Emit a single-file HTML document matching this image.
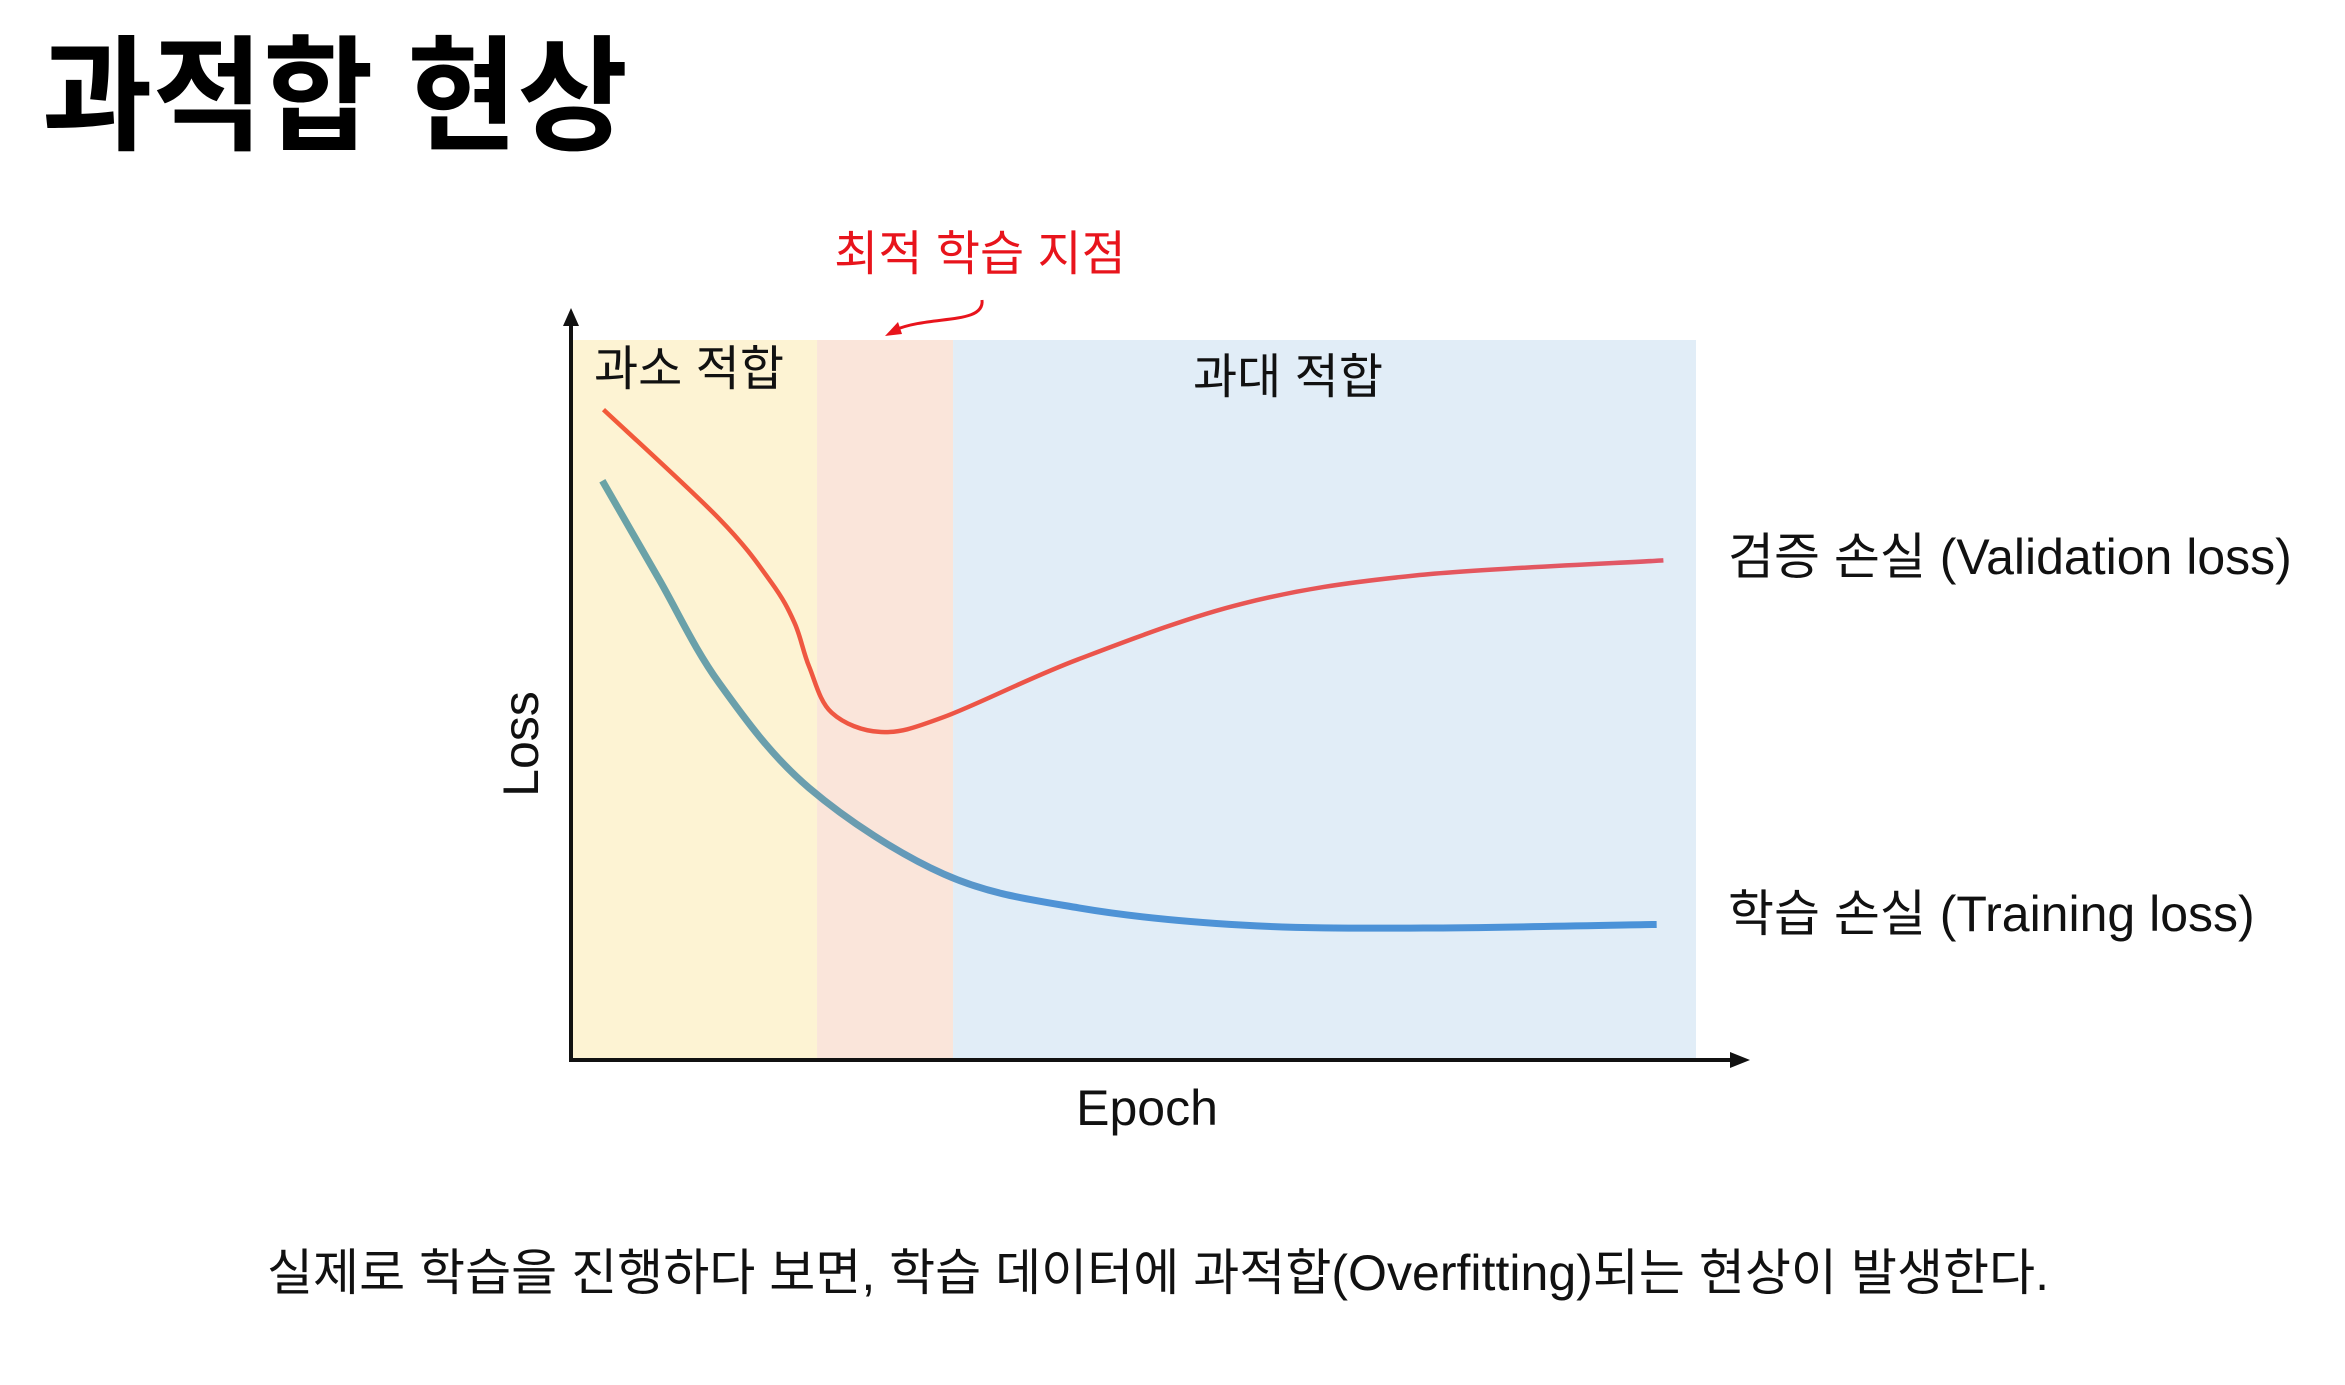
<!DOCTYPE html>
<html><head><meta charset="utf-8"><style>
html,body{margin:0;padding:0;background:#fff;width:2345px;height:1385px;overflow:hidden}
svg{display:block}
text{font-family:"Liberation Sans","Noto Sans CJK KR",sans-serif}
</style></head><body>
<svg id="chart" width="2345" height="1385" viewBox="0 0 2345 1385">
<defs>
<linearGradient id="gTrain" x1="0" x2="1" y1="0" y2="0"><stop offset="0" stop-color="#6aa3a6"/><stop offset="0.25" stop-color="#6a9cb0"/><stop offset="0.4" stop-color="#4f93d6"/><stop offset="1" stop-color="#4a92d8"/></linearGradient>
<linearGradient id="gVal" x1="0" x2="1" y1="0" y2="0"><stop offset="0" stop-color="#f25a3a"/><stop offset="0.4" stop-color="#ec5448"/><stop offset="1" stop-color="#e05868"/></linearGradient>
</defs>
<text x="42" y="140" font-size="125" font-weight="bold" textLength="586" lengthAdjust="spacingAndGlyphs" fill="#000">과적합 현상</text>
<g id="plot"></g>
<text x="980" y="270" font-size="48" fill="#e8141c" text-anchor="middle">최적 학습 지점</text>
<path d="M982 300 C 985 325, 930 315, 895 330" fill="none" stroke="#e8141c" stroke-width="3"/>
<polygon points="885,336 898,322 902,334" fill="#e8141c"/>
<text x="594" y="385" font-size="48" fill="#111">과소 적합</text>
<text x="1288" y="393" font-size="48" fill="#111" text-anchor="middle">과대 적합</text>
<text x="1728" y="574" font-size="50" fill="#111">검증 손실 (Validation loss)</text>
<text x="1728" y="931" font-size="50" fill="#111">학습 손실 (Training loss)</text>
<text transform="translate(538,744) rotate(-90)" font-size="50" fill="#111" text-anchor="middle">Loss</text>
<text x="1147" y="1125" font-size="50" fill="#111" text-anchor="middle">Epoch</text>
<text x="1158" y="1290" font-size="50" fill="#111" text-anchor="middle" textLength="1782" lengthAdjust="spacingAndGlyphs">실제로 학습을 진행하다 보면, 학습 데이터에 과적합(Overfitting)되는 현상이 발생한다.</text>
</svg>
<script>
const regionNames=["underfit","optimal","overfit"];
const regionStarts=[0,21.8,33.9];
const regionEnds=[21.8,33.9,100];
const valEpochs=[2.8,13.1,17.7,19.8,21.1,23.1,27.5,33.1,45,59.7,75,97.1];
const valLoss=[0.903,0.751,0.663,0.606,0.545,0.481,0.454,0.475,0.555,0.633,0.672,0.693];
const trainEpochs=[2.7,7.7,13.1,21.1,33.1,45.1,59.7,75.8,96.5];
const trainLoss=[0.804,0.668,0.522,0.376,0.256,0.209,0.185,0.181,0.186];
const X0=572,X1=1696,Y0=1058,Y1=340;
const xs=e=>X0+(X1-X0)*e/100;
const ys=v=>Y0-(Y0-Y1)*v;
const NS="http://www.w3.org/2000/svg";
const g=document.getElementById('plot');
const cols=["#fdf3d3","#fae5da","#e1edf7"];
regionNames.forEach((n,i)=>{
 const r=document.createElementNS(NS,'rect');
 r.setAttribute('x',xs(regionStarts[i]));r.setAttribute('y',Y1);
 r.setAttribute('width',xs(regionEnds[i])-xs(regionStarts[i]));r.setAttribute('height',Y0-Y1);
 r.setAttribute('fill',cols[i]);
 
 
 g.appendChild(r);
});
function smooth(ex,ey){
 const p=ex.map((e,i)=>[xs(e),ys(ey[i])]);
 let d='M'+p[0][0]+' '+p[0][1];
 for(let i=0;i<p.length-1;i++){
  const a=p[Math.max(0,i-1)],b=p[i],c=p[i+1],e=p[Math.min(p.length-1,i+2)];
  d+=` C${b[0]+(c[0]-a[0])/6} ${b[1]+(c[1]-a[1])/6},${c[0]-(e[0]-b[0])/6} ${c[1]-(e[1]-b[1])/6},${c[0]} ${c[1]}`;
 }
 return d;
}
const tl=document.createElementNS(NS,'path');
tl.setAttribute('d',smooth(trainEpochs,trainLoss));
tl.setAttribute('fill','none');tl.setAttribute('stroke','url(#gTrain)');tl.setAttribute('stroke-width','7');


g.appendChild(tl);
const vl=document.createElementNS(NS,'path');
vl.setAttribute('d',smooth(valEpochs,valLoss));
vl.setAttribute('fill','none');vl.setAttribute('stroke','url(#gVal)');vl.setAttribute('stroke-width','4.5');


g.appendChild(vl);
const ax=document.createElementNS(NS,'path');
ax.setAttribute('d',`M571 322 L571 1060 L1733 1060`);
ax.setAttribute('fill','none');ax.setAttribute('stroke','#111');ax.setAttribute('stroke-width','4');


g.appendChild(ax);
const ah=document.createElementNS(NS,'path');
ah.setAttribute('d','M571 308 L563 326 L579 326 Z M1750 1060 L1730 1052 L1730 1068 Z');
ah.setAttribute('fill','#111');


g.appendChild(ah);
</script>
</body></html>
